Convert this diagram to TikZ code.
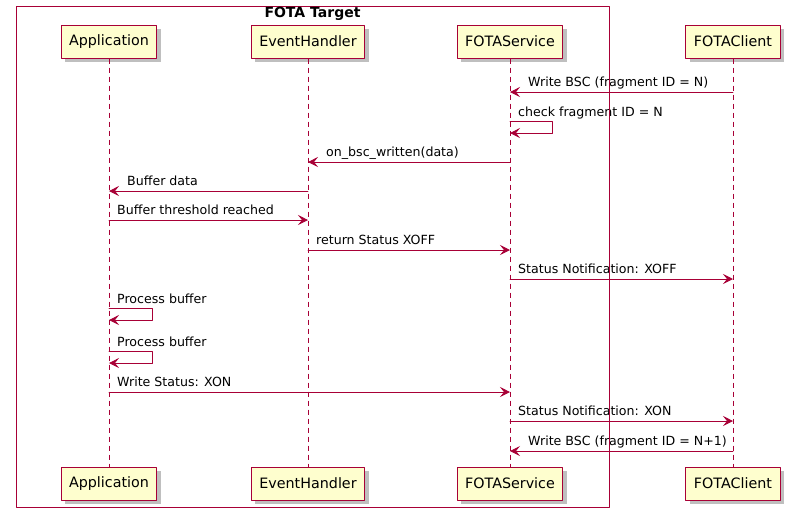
\documentclass[tikz,border=0pt]{standalone}
\usepackage{fontspec}
\setmainfont{DejaVu Sans}
\usetikzlibrary{arrows.meta,shadows}
\definecolor{umlred}{HTML}{A80036}
\definecolor{umlbox}{HTML}{FEFECE}

\begin{document}
\begin{tikzpicture}[x=1pt,y=-1pt,line cap=round,line join=round,>={Stealth[length=10pt,width=10pt,inset=4pt]},
  actor/.style={draw=umlred,fill=umlbox,line width=1pt,minimum height=33pt,inner xsep=8pt,font=\fontsize{14.3}{16}\selectfont,drop shadow={shadow xshift=4pt,shadow yshift=-4pt,fill=black!25,opacity=1}},
  life/.style={draw=umlred,dash pattern=on 5pt off 4pt,line width=0.8pt,line cap=butt},
  msg/.style={draw=umlred,->,line width=0.8pt},
  lbl/.style={font=\fontsize{12.6}{15}\selectfont,inner sep=0pt,anchor=base west}]
\useasboundingbox (0,0) rectangle (792,512);
%participants
\node[actor] (app) at (109,41.5) {Application};
\node[actor] (evh) at (308,41.5) {EventHandler};
\node[actor] (fsv) at (510,41.5) {FOTAService};
\node[actor] (fcl) at (733,41.5) {FOTAClient};
\node[actor] (app2) at (109,483.5) {Application};
\node[actor] (evh2) at (308,483.5) {EventHandler};
\node[actor] (fsv2) at (510,483.5) {FOTAService};
\node[actor] (fcl2) at (733,483.5) {FOTAClient};
%lifelines
\draw[life] (app) -- (app2);
\draw[life] (evh) -- (evh2);
\draw[life] (fsv) -- (fsv2);
\draw[life] (fcl) -- (fcl2);
%messages
\draw[msg] (fcl |- 0,92) -- (fsv |- 0,92);
\node[lbl,xshift=18pt] (m1) at (fsv |- 0,86.5) {Write BSC (fragment ID = N)};
\draw[msg] (fsv |- 0,121) -- ++(42,0) -- ++(0,12) -- (fsv |- 0,133);
\node[lbl,xshift=8pt] (m2) at (fsv |- 0,116.5) {check fragment ID = N};
\draw[msg] (fsv |- 0,162) -- (evh |- 0,162);
\node[lbl,xshift=18pt] (m3) at (evh |- 0,156.5) {on\_bsc\_written(data)};
\draw[msg] (evh |- 0,191) -- (app |- 0,191);
\node[lbl,xshift=18pt] (m4) at (app |- 0,185.5) {Buffer data};
\draw[msg] (app |- 0,220) -- (evh |- 0,220);
\node[lbl,xshift=8pt] (m5) at (app |- 0,214.5) {Buffer threshold reached};
\draw[msg] (evh |- 0,250) -- (fsv |- 0,250);
\node[lbl,xshift=8pt] (m6) at (evh |- 0,244.5) {return Status XOFF};
\draw[msg] (fsv |- 0,279) -- (fcl |- 0,279);
\node[lbl,xshift=8pt] (m7) at (fsv |- 0,273.5) {Status Notification: XOFF};
\draw[msg] (app |- 0,308) -- ++(43,0) -- ++(0,12) -- (app |- 0,320);
\node[lbl,xshift=8pt] (m8) at (app |- 0,303.5) {Process buffer};
\draw[msg] (app |- 0,351) -- ++(43,0) -- ++(0,12) -- (app |- 0,363);
\node[lbl,xshift=8pt] (m9) at (app |- 0,346.5) {Process buffer};
\draw[msg] (app |- 0,392) -- (fsv |- 0,392);
\node[lbl,xshift=8pt] (m10) at (app |- 0,386.5) {Write Status: XON};
\draw[msg] (fsv |- 0,421) -- (fcl |- 0,421);
\node[lbl,xshift=8pt] (m11) at (fsv |- 0,415.5) {Status Notification: XON};
\draw[msg] (fcl |- 0,451) -- (fsv |- 0,451);
\node[lbl,xshift=18pt] (m12) at (fsv |- 0,445.5) {Write BSC (fragment ID = N+1)};
%group
\draw[umlred,line width=1pt] (16,6) rectangle (609,507);
\node[font=\bfseries\fontsize{14}{16}\selectfont,inner sep=0pt] (grp) at (312.5,14) {FOTA Target};
\end{tikzpicture}
\end{document}
